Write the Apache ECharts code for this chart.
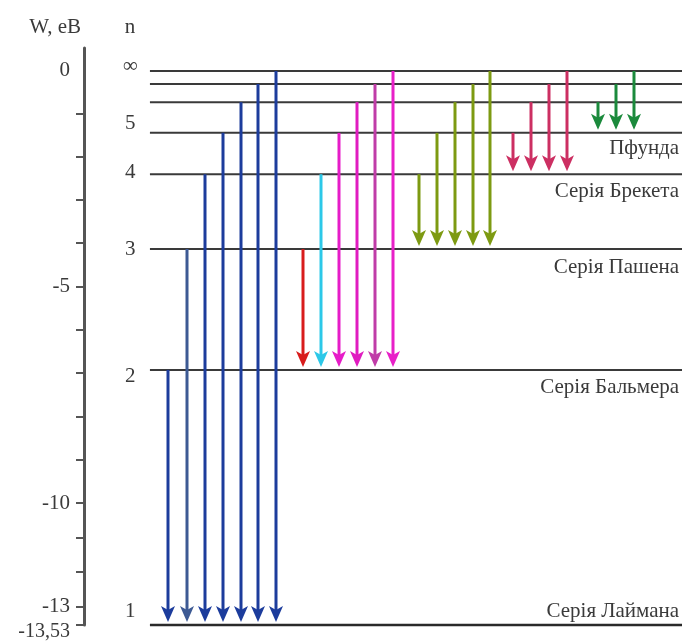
<!DOCTYPE html>
<html><head><meta charset="utf-8">
<script src="https://cdn.jsdelivr.net/npm/echarts@6/dist/echarts.min.js"></script>
<style>html,body{margin:0;padding:0;background:#fff}#c{width:682px;height:644px}</style>
</head><body><div id="c"></div>
<script>
// ---- data (schematic energy diagram) ----
const levelN = ['1', '2', '3', '4', '5', '6', '7', '∞'];
const levelW = [-13.53, -7.30, -4.35, -2.52, -1.51, -0.76, -0.32, 0];

const nLabelText = ['∞', '5', '4', '3', '2', '1'];
const nLabelW = [0.1, -1.27, -2.49, -4.37, -7.47, -13.21];

const seriesNames = ['Серія Лаймана', 'Серія Бальмера', 'Серія Пашена', 'Серія Брекета', 'Пфунда'];
const seriesLabelW = [-13.21, -7.74, -4.81, -2.95, -1.88];
const seriesTo = ['1', '2', '3', '4', '5'];

const lymanX = [1, 2.05, 3.05, 4.05, 5.05, 6, 7];
const lymanFrom = ['2', '3', '4', '5', '6', '7', '∞'];
const balmerX = [8.5, 9.5, 10.5, 11.5, 12.5, 13.5];
const balmerFrom = ['3', '4', '5', '6', '7', '∞'];
const paschenX = [14.94, 15.94, 16.94, 17.94, 18.9];
const paschenFrom = ['4', '5', '6', '7', '∞'];
const brackettX = [20.17, 21.17, 22.17, 23.17];
const brackettFrom = ['5', '6', '7', '∞'];
const pfundX = [24.9, 25.9, 26.9];
const pfundFrom = ['6', '7', '∞'];

const wTicksUpper = [-1, -2, -3, -4, -5, -6, -7, -8, -9, -10];
const wLabelsUpper = [0, -5, -10];
const wTicksLower = [-11, -12, -13, -13.53];
const wLabelsLower = [-13, -13.53];

// ---- styles ----
const lymanColors = ['#1c3c9c', '#3d5a94', '#1c3c9c', '#1c3c9c', '#1c3c9c', '#1c3c9c', '#1c3c9c'];
const balmerColors = ['#d81c1c', '#2cc8e8', '#e61cc8', '#e01cc0', '#c03ca8', '#e820c8'];
const paschenColor = '#7d9a12';
const brackettColor = '#cc2f62';
const pfundColor = '#1b8a3c';
const FAMILY = '"Liberation Serif", "DejaVu Serif", serif';
const FSIZE = 21;
const FONT = FSIZE + 'px ' + FAMILY;
const TXT = '#3a3a3a';

const W = n => levelW[levelN.indexOf(n)];
function arrows(xs, from, to, colorFn) {
  return xs.map((x, i) => ({ value: [x, W(from[i]), W(to)], itemStyle: { color: colorFn(i) } }));
}
const arrowData = [].concat(
  arrows(lymanX, lymanFrom, seriesTo[0], i => lymanColors[i]),
  arrows(balmerX, balmerFrom, seriesTo[1], i => balmerColors[i]),
  arrows(paschenX, paschenFrom, seriesTo[2], () => paschenColor),
  arrows(brackettX, brackettFrom, seriesTo[3], () => brackettColor),
  arrows(pfundX, pfundFrom, seriesTo[4], () => pfundColor)
);

const chart = echarts.init(document.getElementById('c'), null, { renderer: 'canvas' });
const commaFmt = v => String(v).replace('.', ',');

chart.setOption({
  animation: false,
  backgroundColor: '#fff',
  grid: [
    { left: 0, right: 0, top: 48, bottom: 19 },
    { left: 84, width: 1, top: 48, height: 455 },
    { left: 84, width: 1, top: 503, height: 122 }
  ],
  xAxis: [
    { gridIndex: 0, type: 'value', min: -8.33, max: 29.56, show: false },
    { gridIndex: 1, type: 'value', show: false },
    { gridIndex: 2, type: 'value', show: false }
  ],
  yAxis: [
    { gridIndex: 0, type: 'value', min: -13.53, max: 0.562, show: false },
    {
      gridIndex: 1, type: 'value', min: -10, max: 0.508,
      name: 'W, eB', nameLocation: 'end', nameGap: 21,
      nameTextStyle: { fontFamily: FAMILY, fontSize: FSIZE, color: TXT, align: 'right', verticalAlign: 'middle', padding: [0, 3, 0, 0] },
      axisLine: { show: true, lineStyle: { color: '#555', width: 3 } },
      axisTick: { show: true, customValues: wTicksUpper, length: 8, lineStyle: { color: '#555', width: 2 } },
      axisLabel: { customValues: wLabelsUpper, formatter: commaFmt, margin: 14, fontFamily: FAMILY, fontSize: FSIZE, color: TXT },
      splitLine: { show: false }
    },
    {
      gridIndex: 2, type: 'value', min: -13.53, max: -10,
      axisLine: { show: true, lineStyle: { color: '#555', width: 3 } },
      axisTick: { show: true, customValues: wTicksLower, length: 8, lineStyle: { color: '#555', width: 2 } },
      axisLabel: {
        customValues: wLabelsLower, margin: 14,
        formatter: v => (v === -13.53 ? '{low|' + commaFmt(v) + '}' : commaFmt(v)),
        rich: { low: { fontFamily: FAMILY, fontSize: FSIZE - 1, color: TXT, padding: [14, 0, 0, 0] } },
        fontFamily: FAMILY, fontSize: FSIZE, color: TXT
      },
      splitLine: { show: false }
    }
  ],
  graphic: [
    { type: 'text', x: 130, y: 27, style: { text: 'n', font: FONT, fill: TXT, align: 'center', verticalAlign: 'middle' } }
  ],
  series: [
    {
      type: 'custom', name: 'levels', xAxisIndex: 0, yAxisIndex: 0, clip: false,
      data: levelW.map((w, i) => [w, i]),
      renderItem(params, api) {
        const p0 = api.coord([0, api.value(0)]);
        const cs = params.coordSys;
        const isGround = api.value(1) === 0;
        return {
          type: 'line',
          shape: { x1: p0[0], y1: p0[1], x2: cs.x + cs.width, y2: p0[1] },
          style: { stroke: isGround ? '#2a2a2a' : '#3a3a3a', lineWidth: isGround ? 2.5 : 2 }
        };
      }
    },
    {
      type: 'custom', name: 'transitions', xAxisIndex: 0, yAxisIndex: 0, clip: false,
      data: arrowData,
      renderItem(params, api) {
        const p0 = api.coord([api.value(0), api.value(1)]);
        const p1 = api.coord([api.value(0), api.value(2)]);
        const color = api.visual('color');
        const x = Math.round(p0[0]);
        const tip = p1[1] - 3, hh = 16, hw = 7, notch = 4;
        return {
          type: 'group',
          children: [
            { type: 'line', shape: { x1: x, y1: p0[1], x2: x, y2: tip - hh + notch + 1 }, style: { stroke: color, lineWidth: 3 } },
            { type: 'polygon', shape: { points: [[x, tip], [x - hw, tip - hh], [x, tip - hh + notch], [x + hw, tip - hh]] }, style: { fill: color } }
          ]
        };
      }
    },
    {
      type: 'custom', name: 'nLabels', xAxisIndex: 0, yAxisIndex: 0, clip: false,
      data: nLabelW.map((w, i) => [-1.1, w, i]),
      renderItem(params, api) {
        const p = api.coord([api.value(0), api.value(1)]);
        return { type: 'text', x: p[0], y: p[1], style: { text: nLabelText[api.value(2)], font: FONT, fill: TXT, align: 'center', verticalAlign: 'middle' } };
      }
    },
    {
      type: 'custom', name: 'seriesLabels', xAxisIndex: 0, yAxisIndex: 0, clip: false,
      data: seriesLabelW.map((w, i) => [29.4, w, i]),
      renderItem(params, api) {
        const p = api.coord([api.value(0), api.value(1)]);
        return { type: 'text', x: p[0], y: p[1], style: { text: seriesNames[api.value(2)], font: FONT, fill: TXT, align: 'right', verticalAlign: 'middle' } };
      }
    }
  ]
});
</script></body></html>
